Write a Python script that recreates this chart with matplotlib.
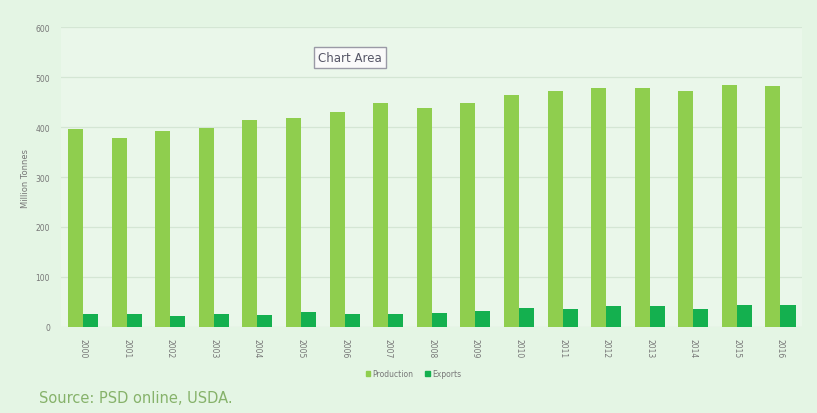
import matplotlib.pyplot as plt
import numpy as np
from matplotlib.patches import Patch

years = [str(y) for y in range(2000, 2017)]
production = [396, 378, 392, 398, 414, 418, 430, 448, 438, 448, 464, 472, 478, 478, 472, 484, 482]
exports = [26, 26, 22, 26, 24, 30, 26, 26, 28, 32, 38, 36, 42, 42, 36, 44, 44]

prod_color = "#8fce4e"
exp_color = "#14b04f"
bg_color = "#e4f5e4"

fig = plt.figure(figsize=(8.17, 4.14), dpi=100)
fig.patch.set_facecolor(bg_color)
ax = fig.add_axes([0.075, 0.208, 0.907, 0.724])
ax.set_facecolor("#eaf7ea")

x = np.arange(len(years))
w = 0.345
ax.bar(x - w / 2, production, width=w, color=prod_color, label="Production", zorder=3)
ax.bar(x + w / 2, exports, width=w, color=exp_color, label="Exports", zorder=3)

ax.set_xlim(-0.5, len(years) - 0.5)
ax.set_ylim(0, 600)
ax.set_yticks(range(0, 601, 100))
ax.set_yticklabels([str(v) for v in range(0, 601, 100)], fontsize=5.5, color="#777777")
ax.set_xticks(x)
ax.set_xticklabels(years, rotation=-90, fontsize=5.5, color="#777777")
ax.tick_params(length=0, pad=8)
ax.grid(axis="y", color="#d4e6d4", linewidth=0.9, zorder=0)
for s in ax.spines.values():
    s.set_visible(False)
ax.set_ylabel("Million Tonnes", fontsize=6, color="#777777", labelpad=4)

ax.legend(handles=[Patch(color=prod_color, label="Production"),
                   Patch(color=exp_color, label="Exports")],
          loc="center", bbox_to_anchor=(0.475, -0.157), ncol=2, frameon=False,
          fontsize=5.5, labelcolor="#777777", handlelength=0.6, handleheight=0.6,
          columnspacing=1.5, handletextpad=0.3)

# tooltip label over the plot
fig.text(0.428, 0.858, "Chart Area", fontsize=8.5, color="#555566", ha="center", va="center",
         bbox=dict(boxstyle="square,pad=0.35", facecolor="#fafafa", edgecolor="#9a9aa6", linewidth=1.0))

fig.text(0.048, 0.038, "Source: PSD online, USDA.", fontsize=10.5, color="#86b26a", ha="left", va="center")

fig.savefig("out.png", dpi=100, facecolor=fig.get_facecolor())
